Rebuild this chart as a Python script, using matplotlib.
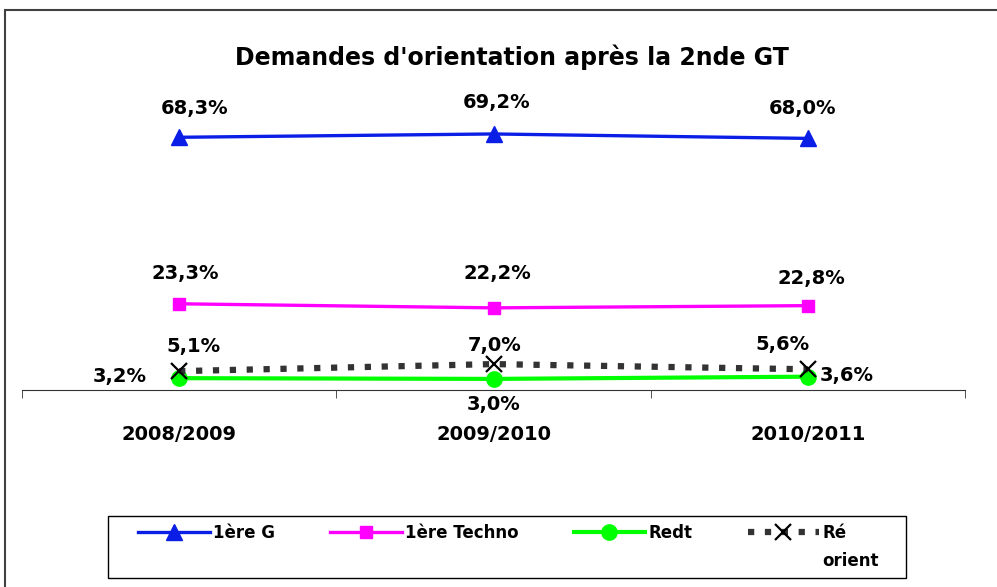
import matplotlib.pyplot as plt
from matplotlib.patches import Rectangle

years = ["2008/2009", "2009/2010", "2010/2011"]
premiere_g = [68.3, 69.2, 68.0]
premiere_techno = [23.3, 22.2, 22.8]
redt = [3.2, 3.0, 3.6]
reorient = [5.1, 7.0, 5.6]

W, H = 997, 587
FONT = "DejaVu Sans"


def fmt(v):
    return f"{v:.1f}%".replace(".", ",")


def label_points(ax, values, offsets, ha="center"):
    # offsets in pixels (dx, dy), one per point
    for i, (v, (dx, dy)) in enumerate(zip(values, offsets)):
        align = ha[i] if isinstance(ha, list) else ha
        ax.annotate(fmt(v), (i, v), xytext=(dx, dy), textcoords="offset pixels",
                    ha=align, va="center", fontsize=14, fontweight="bold",
                    family=FONT, annotation_clip=False)


def main():
    fig = plt.figure(figsize=(W / 100, H / 100), dpi=100)
    ax = fig.add_axes([22 / W, (H - 390) / H, 943 / W, 296 / H])

    x = list(range(len(years)))
    ax.plot(x, premiere_g, color="#0A1EE6", lw=2.4, marker="^", ms=12,
            clip_on=False, label="1ère G")
    ax.plot(x, premiere_techno, color="#FF00FF", lw=2.4, marker="s", ms=9,
            clip_on=False, label="1ère Techno")
    ax.plot(x, redt, color="#00FF00", lw=3, marker="o", ms=11,
            clip_on=False, label="Redt")
    ax.plot(x, reorient, color="#333333", lw=4.5, dashes=(1, 1.7),
            dash_capstyle="butt", marker="x", ms=11, mew=1.6, mec="black",
            clip_on=False, label="Ré")

    label_points(ax, premiere_g, [(15, 29), (3, 31), (-5, 30)])
    label_points(ax, premiere_techno, [(6, 30), (4, 34), (4, 27)])
    label_points(ax, reorient, [(14, 25), (1, 19), (-25, 25)])
    label_points(ax, redt, [(-32, 2), (0, -26), (12, 1)],
                 ha=["right", "center", "left"])

    ax.set_xlim(-0.5, 2.5)
    ax.set_ylim(0, 80)
    for side in ["left", "right", "top"]:
        ax.spines[side].set_visible(False)
    ax.spines["bottom"].set_color("#333333")
    ax.set_yticks([])
    ax.set_xticks(x)
    ax.set_xticklabels(years, fontsize=14, fontweight="bold", family=FONT)
    ax.set_xticks([-0.5, 0.5, 1.5, 2.5], minor=True)
    ax.tick_params(axis="x", which="major", length=0, pad=25)
    ax.tick_params(axis="x", which="minor", length=6, direction="out",
                   color="#333333")

    fig.text(512 / W, (H - 57) / H, "Demandes d'orientation après la 2nde GT",
             ha="center", va="center", fontsize=17, fontweight="bold",
             family=FONT)

    # outer chart border
    fig.add_artist(Rectangle((5 / W, -0.1), 1.1, (H - 10) / H + 0.1,
                             transform=fig.transFigure, fill=False,
                             ec="#404040", lw=1.5))

    # legend frame
    fig.add_artist(Rectangle((108 / W, (H - 578) / H), 798 / W, 62 / H,
                             transform=fig.transFigure, fill=False,
                             ec="black", lw=1))
    leg = ax.legend(loc="center left", bbox_to_anchor=(138 / W, (H - 533) / H),
                    bbox_transform=fig.transFigure, ncol=4, frameon=False,
                    borderpad=0, borderaxespad=0, handlelength=4.3,
                    handletextpad=0.2, columnspacing=3.3,
                    prop={"family": FONT, "weight": "bold", "size": 12})
    fig.canvas.draw()
    bb = leg.get_texts()[3].get_window_extent()
    fig.text(bb.x0 / W, (H - 561) / H, "orient", ha="left", va="center",
             fontsize=12, fontweight="bold", family=FONT)

    fig.savefig("out.png", dpi=100)


if __name__ == "__main__":
    main()
